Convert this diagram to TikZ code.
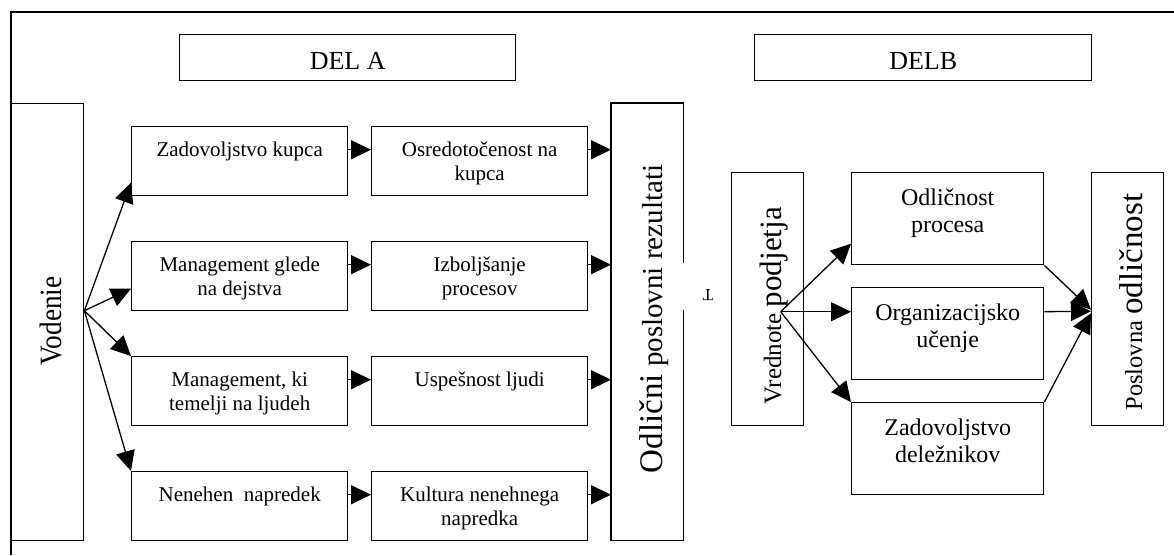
\documentclass[tikz,border=0pt]{standalone}
\usepackage{fontspec}
\usepackage{graphicx}
\setmainfont{Liberation Serif}
\usetikzlibrary{arrows.meta,calc}
\begin{document}
\begin{tikzpicture}[x=1pt,y=-1pt,
  bx/.style={draw, line width=1.4pt, inner sep=0pt, anchor=north west},
  arr/.style={line width=1.3pt, -{Triangle[length=20pt,width=19pt]}},
  ta/.style={anchor=north, align=center, inner sep=0pt, font=\fontsize{21}{24}\selectfont},
  tb/.style={anchor=north, align=center, inner sep=0pt, font=\fontsize{24}{27}\selectfont},
  rt/.style={rotate=90, anchor=base, inner sep=0pt},
  hdr/.style={bx, minimum width=336pt, minimum height=46pt, font=\fontsize{26}{26}\selectfont, text height=24pt, text depth=0pt}
]
\fill[white] (0,0) rectangle (1174,555);
\useasboundingbox (0,0) rectangle (1174,555);
% frame
\coordinate (fa) at (1174,12);
\coordinate (fb) at (11,12);
\coordinate (fc) at (11,555);
\draw[line width=1.4pt] (fa) -- (fb) -- (fc);
% headers
\node[hdr] (dela) at (179,34) {DEL A};
\node[hdr, minimum width=337pt] (delb) at (754,34) {DELB};
% Vodenie
\node[bx, minimum width=72pt, minimum height=437pt] (vod) at (11,103) {};
\node[rt] (vodt) at (61,321) {\fontsize{31}{31}\selectfont\scalebox{0.88}[1]{Vodenie}};
% rows
\node[bx, minimum width=216pt, minimum height=69pt] (a1) at (131,126) {};
\node[bx, minimum width=216pt, minimum height=69pt] (b1) at (371,126) {};
\node[bx, minimum width=216pt, minimum height=69pt] (a2) at (131,241) {};
\node[bx, minimum width=216pt, minimum height=69pt] (b2) at (371,241) {};
\node[bx, minimum width=216pt, minimum height=69pt] (a3) at (131,356) {};
\node[bx, minimum width=216pt, minimum height=69pt] (b3) at (371,356) {};
\node[bx, minimum width=216pt, minimum height=69pt] (a4) at (131,471) {};
\node[bx, minimum width=216pt, minimum height=69pt] (b4) at (371,471) {};
\node[ta] (ta1) at ([yshift=-15.5pt]a1.north) {Zadovoljstvo kupca};
\node[ta] (tb1) at ([yshift=-15.5pt]b1.north) {Osredotočenost na\\kupca};
\node[ta] (ta2) at ([yshift=-15.5pt]a2.north) {Management glede\\na dejstva};
\node[ta] (tb2) at ([yshift=-15.5pt]b2.north) {Izboljšanje\\procesov};
\node[ta] (ta3) at ([yshift=-15.5pt]a3.north) {Management, ki\\temelji na ljudeh};
\node[ta] (tb3) at ([yshift=-15.5pt]b3.north) {Uspešnost ljudi};
\node[ta] (ta4) at ([yshift=-15.5pt]a4.north) {Nenehen\ \ napredek};
\node[ta] (tb4) at ([yshift=-15.5pt]b4.north) {Kultura nenehnega\\napredka};
% Odlicni
\node[inner sep=0pt, minimum width=72pt, minimum height=437pt, anchor=north west] (odl) at (611,103) {};
\draw[line width=1.4pt] ([yshift=-160pt]odl.north east) -- (odl.north east) -- (odl.north west) -- (odl.south west) -- (odl.south east) -- ([yshift=-207pt]odl.north east);
\node[rt] (odlt) at (662,319) {{\fontsize{33}{33}\selectfont Odlični}{\fontsize{29}{29}\selectfont{} poslovni rezultati}};
\node[inner sep=0pt, font=\fontsize{17}{17}\selectfont] (tk) at (708,295) {\rotatebox{180}{T}};
% row arrows
\foreach \r in {1,2,3,4}{
  \draw[arr] ([yshift=11.5pt]a\r.east) -- ([yshift=11.5pt]b\r.west);
  \draw[arr] ([yshift=11.5pt]b\r.east) -- ([yshift=11.5pt]b\r.east -| odl.west);
}
% Vodenie arrows
\coordinate (vo) at ([yshift=11.5pt]vod.east);
\draw[arr] (vo) -- ([yshift=-21.5pt]a1.west);
\draw[arr] (vo) -- ([yshift=-12.5pt]a2.west);
\draw[arr] (vo) -- (a3.north west);
\draw[arr] (vo) -- (a4.north west);
% DEL B
\node[bx, minimum width=72pt, minimum height=253pt] (vre) at (731,172) {};
\node[rt] (vret) at (781,306) {{\fontsize{25}{25}\selectfont Vrednote }{\fontsize{31}{31}\selectfont podjetja}};
\node[bx, minimum width=192pt, minimum height=92pt] (op) at (851,172) {};
\node[bx, minimum width=192pt, minimum height=92pt] (org) at (851,287) {};
\node[bx, minimum width=192pt, minimum height=92pt] (zad) at (851,402) {};
\node[tb] (topt) at ([yshift=-16.5pt]op.north) {Odličnost\\procesa};
\node[tb] (torg) at ([yshift=-16.5pt]org.north) {Organizacijsko\\učenje};
\node[tb] (tzad) at ([yshift=-16.5pt]zad.north) {Zadovoljstvo\\deležnikov};
\node[bx, minimum width=72pt, minimum height=253pt] (pos) at (1091,172) {};
\node[rt] (post) at (1142,302) {{\fontsize{24.5}{25}\selectfont Poslovna }{\fontsize{33}{33}\selectfont odličnost}};
\coordinate (vr) at ([xshift=13pt,yshift=-12.5pt]vre.center);
\draw[arr] (vr) -- ([yshift=-25pt]op.west);
\draw[arr] (vr) -- ([yshift=22pt]org.west);
\draw[arr] (vr) -- (zad.north west);
\draw[arr] (op.south east) -- ([yshift=-10.5pt]pos.west);
\draw[arr] ([yshift=22pt]org.east) -- ([yshift=-12pt]pos.west);
\draw[arr] (zad.north east) -- ([yshift=-14pt]pos.west);
\end{tikzpicture}
\end{document}
